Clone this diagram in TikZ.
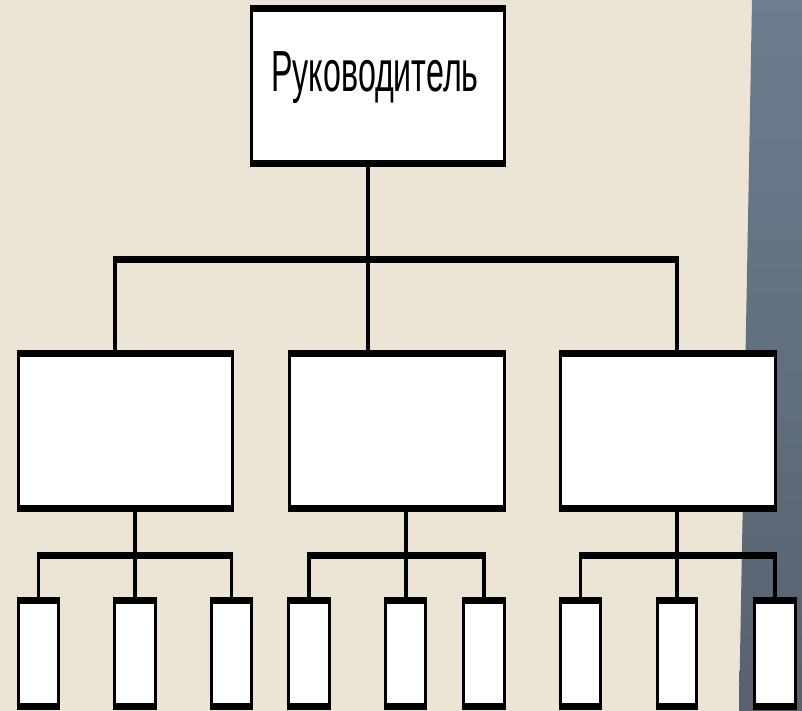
\documentclass[tikz,border=0pt]{standalone}
\usepackage{fontspec}
\setmainfont{Liberation Sans}
\usetikzlibrary{fit}
\definecolor{paper}{RGB}{236,228,212}
\definecolor{slateA}{RGB}{108,126,143}
\definecolor{slateB}{RGB}{86,98,110}
\newcommand\orgbox[5]{%
  \node[fit={(#2,#3) (#4,#5)}, inner sep=0pt, fill=white] (#1) {};
  \draw[hl] ([yshift=-3.75pt]#1.north west) -- ([yshift=-3.75pt]#1.north east);
  \draw[hl] ([yshift=3.75pt]#1.south west) -- ([yshift=3.75pt]#1.south east);
  \draw[sl] ([xshift=1.75pt]#1.north west) -- ([xshift=1.75pt]#1.south west);
  \draw[sl] ([xshift=-1.75pt]#1.north east) -- ([xshift=-1.75pt]#1.south east);
}
\begin{document}
\begin{tikzpicture}[x=1pt,y=-1pt,
  hl/.style={line width=7.5pt, line cap=butt},
  sl/.style={line width=3.5pt},
  vl/.style={line width=3.2pt},
  bar/.style={line width=7.5pt}]
\useasboundingbox (0,0) rectangle (802,711);
\fill[paper] (0,0) rectangle (802,711);
\shade[top color=slateA, bottom color=slateB] (752,0) -- (802,0) -- (802,711) -- (739,711) -- cycle;

% boxes
\orgbox{top}{250}{5}{506}{167}
\orgbox{ma}{17}{350}{234}{512}
\orgbox{mb}{288}{350}{506}{512}
\orgbox{mc}{559}{350}{777}{512}
\orgbox{sa1}{17}{597}{60}{710}
\orgbox{sa2}{113}{597}{157}{710}
\orgbox{sa3}{210}{597}{253}{710}
\orgbox{sb1}{287}{597}{331}{710}
\orgbox{sb2}{384}{597}{427}{710}
\orgbox{sb3}{462}{597}{506}{710}
\orgbox{sc1}{559}{597}{602}{710}
\orgbox{sc2}{656}{597}{698}{710}
\orgbox{sc3}{753}{597}{797}{710}

\node[anchor=base, inner sep=0pt, font=\fontsize{58}{58}\selectfont] (title) at (375,92) {\scalebox{0.555}[1]{Руководитель}};

% level 1 connectors
\coordinate (b1l) at (115,259.5);
\coordinate (b1r) at (677,259.5);
\coordinate (b1m) at (368,259.5);
\draw[bar] ([xshift=-1.6pt]b1l) -- ([xshift=1.6pt]b1r);
\draw[vl] (top.south -| b1m) -- (b1m |- mb.north);
\draw[vl] (b1l) -- (b1l |- ma.north);
\draw[vl] (b1r) -- (b1r |- mc.north);

% level 2 connectors
\coordinate (ga) at (135,555.5);
\coordinate (gb) at (406,555.5);
\coordinate (gc) at (677,555.5);
\draw[vl] (ma.south -| ga) -- (ga |- sa2.north);
\draw[vl] (mb.south -| gb) -- (gb |- sb2.north);
\draw[vl] (mc.south -| gc) -- (gc |- sc2.north);
\draw[bar] ([xshift=-1.6pt]sa1.north |- ga) -- ([xshift=1.6pt]sa3.north |- ga);
\draw[bar] ([xshift=-1.6pt]sb1.north |- gb) -- ([xshift=1.6pt]sb3.north |- gb);
\draw[bar] ([xshift=-1.6pt]sc1.north |- gc) -- ([xshift=1.6pt]sc3.north |- gc);
\foreach \n in {sa1,sa3,sb1,sb3,sc1,sc3}{
  \draw[vl] (\n.north |- ga) -- (\n.north);
}
\end{tikzpicture}
\end{document}
